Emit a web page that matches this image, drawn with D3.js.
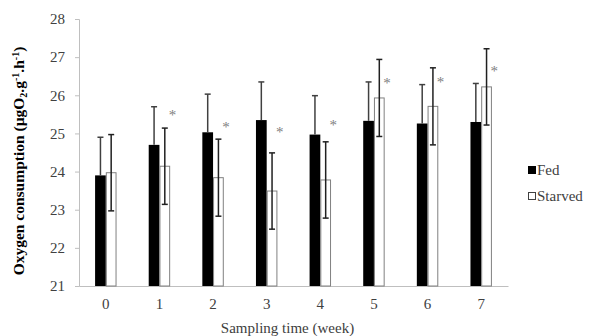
<!DOCTYPE html>
<html>
<head>
<meta charset="utf-8">
<script src="https://cdn.jsdelivr.net/npm/d3@7"></script>
<style>
  body { margin: 0; background: #fff; }
  text { font-family: "Liberation Serif", "Times New Roman", serif; }
</style>
</head>
<body>
<div id="chart"></div>
<script>
// data
const weeks = ["0", "1", "2", "3", "4", "5", "6", "7"];
const fed = [23.9, 24.7, 25.03, 25.35, 24.97, 25.33, 25.26, 25.3];
const fedErr = [1.0, 1.0, 1.0, 1.0, 1.02, 1.02, 1.02, 1.01];
const starved = [23.97, 24.14, 23.84, 23.49, 23.78, 25.93, 25.71, 26.22];
const starvedErr = [1.0, 1.0, 1.01, 1.0, 1.0, 1.01, 1.01, 1.0];
const starAt = [null, 25.52, 25.2, 25.07, 25.26, 26.34, 26.37, 26.65];
const yTicks = [21, 22, 23, 24, 25, 26, 27, 28];

const W = 590, H = 336;
const margin = { top: 19, right: 82, bottom: 50, left: 79 };
const width = W - margin.left - margin.right;
const height = H - margin.top - margin.bottom;

const svg = d3.select("#chart")
  .append("svg")
  .attr("width", W)
  .attr("height", H);

const g = svg.append("g")
  .attr("transform", `translate(${margin.left}, ${margin.top})`);

const x = d3.scaleBand().domain(weeks).range([0, width]);
const y = d3.scaleLinear().domain([21, 28]).range([height, 0]);
const bw = x.bandwidth() * 0.2;

// axes
const yAxis = g.append("g")
  .call(d3.axisLeft(y).tickValues(yTicks).tickSize(4).tickPadding(10).tickFormat(d3.format("d")));
yAxis.attr("font-family", null);
yAxis.select(".domain").attr("stroke", "#bfbfbf");
yAxis.selectAll(".tick line").attr("stroke", "#bfbfbf");
yAxis.selectAll("text").attr("font-size", 15).attr("fill", "#404040");

const xAxis = g.append("g")
  .attr("transform", `translate(0, ${height})`)
  .call(d3.axisBottom(x).tickSize(0).tickPadding(12));
xAxis.attr("font-family", null);
xAxis.select(".domain").attr("stroke", "#bfbfbf");
xAxis.selectAll("text").attr("font-size", 15).attr("fill", "#404040");

// rows
const rows = weeks.map((w, i) => ({
  w, fed: fed[i], fedErr: fedErr[i], starved: starved[i], starvedErr: starvedErr[i], star: starAt[i]
}));

// fed bars
g.selectAll(".fed")
  .data(rows)
  .enter()
  .append("rect")
  .attr("class", "fed")
  .attr("x", (d) => x(d.w) + x.bandwidth() / 2 - bw)
  .attr("y", (d) => y(d.fed))
  .attr("width", bw)
  .attr("height", (d) => height - y(d.fed))
  .attr("fill", "#000");

// starved bars
g.selectAll(".starved")
  .data(rows)
  .enter()
  .append("rect")
  .attr("class", "starved")
  .attr("x", (d) => x(d.w) + x.bandwidth() / 2 + 0.5)
  .attr("y", (d) => y(d.starved))
  .attr("width", bw - 1)
  .attr("height", (d) => height - y(d.starved))
  .attr("fill", "#fff")
  .attr("stroke", "#808080")
  .attr("stroke-width", 1);

// error bars (fed: lower half hidden inside the black bar)
function errBars(key, errKey, dx, color, both) {
  const eg = g.selectAll(".err-" + key)
    .data(rows)
    .enter()
    .append("g")
    .attr("class", "err-" + key)
    .attr("stroke", color)
    .attr("stroke-width", 1.5);
  const cx = (d) => x(d.w) + x.bandwidth() / 2 + dx;
  eg.append("line")
    .attr("x1", cx).attr("x2", cx)
    .attr("y1", (d) => y(d[key] + d[errKey]))
    .attr("y2", (d) => y(both ? d[key] - d[errKey] : d[key]));
  (both ? [1, -1] : [1]).forEach((s) => {
    eg.append("line")
      .attr("x1", (d) => cx(d) - 3).attr("x2", (d) => cx(d) + 3)
      .attr("y1", (d) => y(d[key] + s * d[errKey]))
      .attr("y2", (d) => y(d[key] + s * d[errKey]));
  });
}
errBars("fed", "fedErr", -bw / 2, "#404040", false);
errBars("starved", "starvedErr", bw / 2, "#202020", true);

// significance stars
g.selectAll(".star")
  .data(rows.filter((d) => d.star != null))
  .enter()
  .append("text")
  .attr("class", "star")
  .attr("x", (d) => x(d.w) + x.bandwidth() / 2 + 13)
  .attr("y", (d) => y(d.star) + 6)
  .attr("text-anchor", "middle")
  .attr("font-size", 15)
  .attr("fill", "#808080")
  .text("*");

// axis titles
svg.append("text")
  .attr("x", margin.left + width / 2 - 6)
  .attr("y", 333)
  .attr("text-anchor", "middle")
  .attr("font-size", 15)
  .attr("fill", "#404040")
  .text("Sampling time (week)");

const yt = svg.append("text")
  .attr("transform", "translate(24, 161) rotate(-90)")
  .attr("text-anchor", "middle")
  .attr("font-size", 15.5)
  .attr("font-weight", "bold")
  .attr("fill", "#000");
yt.append("tspan").text("Oxygen consumption (µgO");
yt.append("tspan").attr("font-size", 10).attr("dy", 3).text("2");
yt.append("tspan").attr("dy", -3).text(".g");
yt.append("tspan").attr("font-size", 10).attr("dy", -5).text("-1");
yt.append("tspan").attr("dy", 5).text(".h");
yt.append("tspan").attr("font-size", 10).attr("dy", -5).text("-1");
yt.append("tspan").attr("dy", 5).text(")");

// legend
const legend = svg.append("g").attr("transform", "translate(528, 170)");
const items = [
  { label: "Fed", fill: "#000", stroke: "#000" },
  { label: "Starved", fill: "#fff", stroke: "#404040" }
];
const li = legend.selectAll("g")
  .data(items)
  .enter()
  .append("g")
  .attr("transform", (d, i) => `translate(0, ${i * 26})`);
li.append("rect")
  .attr("x", 0.5).attr("y", -3.5)
  .attr("width", 7).attr("height", 7)
  .attr("fill", (d) => d.fill)
  .attr("stroke", (d) => d.stroke);
li.append("text")
  .attr("x", 9)
  .attr("y", 5)
  .attr("font-size", 15)
  .attr("fill", "#404040")
  .text((d) => d.label);
</script>
</body>
</html>
